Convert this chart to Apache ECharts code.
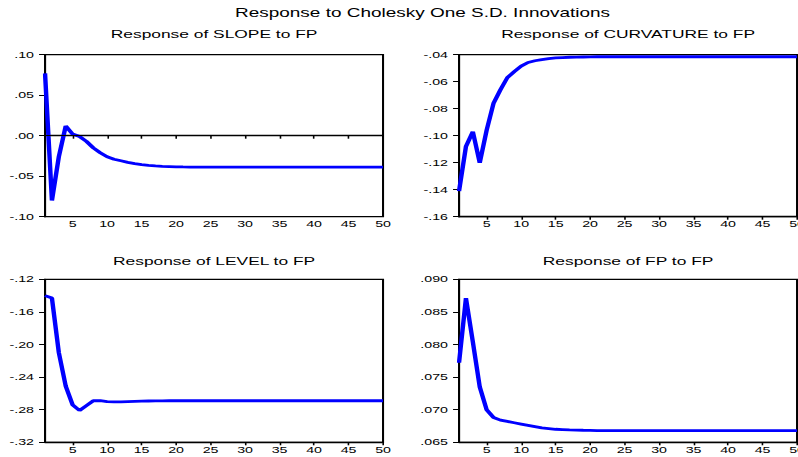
<!DOCTYPE html>
<html>
<head>
<meta charset="utf-8">
<script src="https://cdn.jsdelivr.net/npm/echarts@6/dist/echarts.min.js"></script>
<style>
  html, body { margin: 0; padding: 0; background: #fff; overflow: hidden; }
  /* drawn in a narrow frame, then widened to the 798px page */
  #chart { width: 505px; height: 457px; transform: scaleX(1.5802); transform-origin: 0 0; }
</style>
</head>
<body>
<div id="chart"></div>
<script>
// Impulse responses to a one S.D. Cholesky shock in FP, periods 1..50
const periods = Array.from({ length: 50 }, (_, i) => String(i + 1));

const slopeResp = [
  0.077, -0.080, -0.026, 0.012, 0.002, -0.001, -0.007, -0.015, -0.021, -0.026,
  -0.029, -0.031, -0.033, -0.0345, -0.0357, -0.0366, -0.0373, -0.0378, -0.0381, -0.0384,
  -0.0386, -0.0387, -0.0388, -0.0389, -0.0389, -0.0389, -0.0389, -0.0389, -0.0389, -0.0389,
  -0.0389, -0.0389, -0.0389, -0.0389, -0.0389, -0.0389, -0.0389, -0.0389, -0.0389, -0.0389,
  -0.0389, -0.0389, -0.0389, -0.0389, -0.0389, -0.0389, -0.0389, -0.0389, -0.0389, -0.0389
];

const curvatureResp = [
  -0.141, -0.108, -0.097, -0.120, -0.096, -0.076, -0.066, -0.057, -0.0525, -0.0485,
  -0.0458, -0.0445, -0.0436, -0.0429, -0.0424, -0.0421, -0.0419, -0.0418, -0.0417, -0.0416,
  -0.0415, -0.0415, -0.0415, -0.0415, -0.0415, -0.0415, -0.0415, -0.0415, -0.0415, -0.0415,
  -0.0415, -0.0415, -0.0415, -0.0415, -0.0415, -0.0415, -0.0415, -0.0415, -0.0415, -0.0415,
  -0.0415, -0.0415, -0.0415, -0.0415, -0.0415, -0.0415, -0.0415, -0.0415, -0.0415, -0.0415
];

const levelResp = [
  -0.140, -0.143, -0.210, -0.251, -0.274, -0.281, -0.275, -0.269, -0.269, -0.2702,
  -0.2705, -0.2703, -0.2700, -0.2697, -0.2695, -0.2693, -0.2692, -0.2691, -0.2690, -0.2690,
  -0.2690, -0.2690, -0.2690, -0.2690, -0.2690, -0.2690, -0.2690, -0.2690, -0.2690, -0.2690,
  -0.2690, -0.2690, -0.2690, -0.2690, -0.2690, -0.2690, -0.2690, -0.2690, -0.2690, -0.2690,
  -0.2690, -0.2690, -0.2690, -0.2690, -0.2690, -0.2690, -0.2690, -0.2690, -0.2690, -0.2690
];

const fpResp = [
  0.0772, 0.0871, 0.0804, 0.0735, 0.0700, 0.0688, 0.0684, 0.0682, 0.0680, 0.0678,
  0.0676, 0.0674, 0.0672, 0.0671, 0.0670, 0.06695, 0.0669, 0.06688, 0.06685, 0.06683,
  0.0668, 0.0668, 0.0668, 0.0668, 0.0668, 0.0668, 0.0668, 0.0668, 0.0668, 0.0668,
  0.0668, 0.0668, 0.0668, 0.0668, 0.0668, 0.0668, 0.0668, 0.0668, 0.0668, 0.0668,
  0.0668, 0.0668, 0.0668, 0.0668, 0.0668, 0.0668, 0.0668, 0.0668, 0.0668, 0.0668
];

const mainTitle = 'Response to Cholesky One S.D. Innovations';
const panelTitles = [
  'Response of SLOPE to FP',
  'Response of CURVATURE to FP',
  'Response of LEVEL to FP',
  'Response of FP to FP'
];
const seriesList = [slopeResp, curvatureResp, levelResp, fpResp];

// y-axis ranges: [min, max, step, decimals]
const yRanges = [
  [-0.10, 0.10, 0.05, 2],
  [-0.16, -0.04, 0.02, 2],
  [-0.32, -0.12, 0.04, 2],
  [0.065, 0.090, 0.005, 3]
];

const FONT = '"Liberation Sans", Arial, sans-serif';
const BLUE = '#0000ff';

const grids = [
  { left: 28.5, top: 54.7, width: 213.9, height: 162 },
  { left: 290.5, top: 54.7, width: 213.9, height: 162 },
  { left: 28.5, top: 279.3, width: 213.9, height: 163 },
  { left: 290.5, top: 279.3, width: 213.9, height: 163 }
];
const titleTops = [28.5, 28.5, 256, 256];

// EViews-style tick text: drop the leading zero (".05", "-.10")
const fmt = (d) => (v) => Number(v).toFixed(d).replace(/^(-?)0\./, '$1.');
const everyFifth = (i) => (i + 1) % 5 === 0;

const option = {
  animation: false,
  backgroundColor: '#fff',
  title: [
    {
      text: mainTitle, left: 267.4, top: 7, textAlign: 'center', padding: 0,
      textStyle: { fontSize: 12, fontWeight: 'normal', color: '#000', fontFamily: FONT }
    }
  ].concat(panelTitles.map((t, i) => ({
    text: t,
    left: grids[i].left + grids[i].width / 2,
    top: titleTops[i],
    textAlign: 'center',
    padding: 0,
    textStyle: { fontSize: 11, fontWeight: 'normal', color: '#000', fontFamily: FONT }
  }))),
  grid: grids.map(g => Object.assign({
    show: true, borderColor: '#000', borderWidth: 1.3, backgroundColor: 'transparent',
    containLabel: false, outerBoundsMode: 'none'
  }, g)),
  xAxis: grids.map((g, i) => ({
    type: 'category',
    gridIndex: i,
    data: periods,
    boundaryGap: false,
    axisLine: { show: true, lineStyle: { color: '#000', width: 1.3 } },
    axisTick: { show: true, interval: everyFifth, length: 3, lineStyle: { color: '#000', width: 1 } },
    axisLabel: { show: true, interval: everyFifth, margin: 3, fontSize: 9, color: '#000', fontFamily: FONT },
    splitLine: { show: false }
  })),
  yAxis: yRanges.map((r, i) => ({
    type: 'value',
    gridIndex: i,
    min: r[0],
    max: r[1],
    interval: r[2],
    axisLine: { show: true, lineStyle: { color: '#000', width: 1.3 } },
    axisTick: { show: true, length: 3.8, lineStyle: { color: '#000', width: 1 } },
    axisLabel: { show: true, margin: 7, fontSize: 9, color: '#000', fontFamily: FONT, formatter: fmt(r[3]) },
    splitLine: { show: false }
  })),
  series: seriesList.map((data, i) => {
    const s = {
      type: 'line',
      xAxisIndex: i,
      yAxisIndex: i,
      data: data,
      showSymbol: false,
      symbol: 'none',
      smooth: false,
      lineStyle: { color: BLUE, width: 2.8 },
      itemStyle: { color: BLUE }
    };
    if (i === 0) {
      s.markLine = {
        silent: true,
        symbol: 'none',
        label: { show: false },
        lineStyle: { color: '#000', width: 0.9, type: 'solid' },
        data: [{ yAxis: 0 }]
      };
    }
    return s;
  })
};

const chart = echarts.init(document.getElementById('chart'), null, { renderer: 'svg' });
chart.setOption(option);
</script>
</body>
</html>
